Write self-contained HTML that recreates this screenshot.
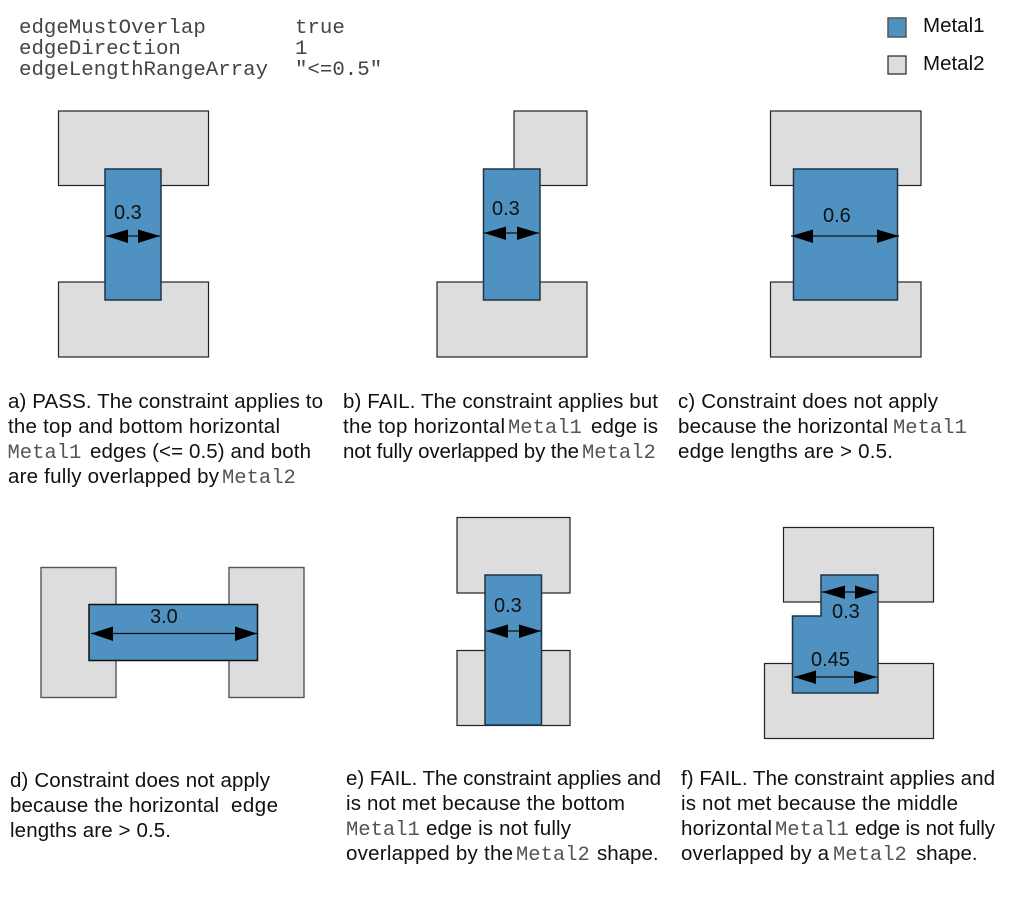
<!DOCTYPE html>
<html><head><meta charset="utf-8"><style>
html,body{margin:0;padding:0;background:#fff;width:1013px;height:911px;overflow:hidden}
svg{display:block}
text{font-family:"Liberation Sans",sans-serif;font-size:20.5px;fill:#111}
.m{font-family:"Liberation Mono",monospace;font-size:20.5px;fill:#555}
.h{font-family:"Liberation Mono",monospace;font-size:20.75px;fill:#444}
.l{font-size:20px}
.g{fill:#dddddd;stroke:#222;stroke-width:1.2}
.d{stroke:#555;stroke-width:1.4}
.b{fill:#4f92c2;stroke:#223344;stroke-width:1.5}
.a{stroke:#111;stroke-width:1.2;fill:none}
.t{fill:#000;stroke:none}
</style></head><body>
<svg width="1013" height="911" viewBox="0 0 1013 911" xmlns="http://www.w3.org/2000/svg">
<text class="h" x="19" y="33">edgeMustOverlap</text><text class="h" x="295" y="33">true</text>
<text class="h" x="19" y="54">edgeDirection</text><text class="h" x="295" y="54">1</text>
<text class="h" x="19" y="75">edgeLengthRangeArray</text><text class="h" x="295" y="75">"&lt;=0.5"</text>

<rect class="b" x="888" y="18" width="18" height="19" style="stroke:#555"/><text x="923" y="32">Metal1</text>
<rect class="g" x="888" y="56" width="18" height="18"/><text x="923" y="70">Metal2</text>

<!-- a -->
<rect class="g" x="58.500" y="111" width="150" height="74.500"/>
<rect class="g" x="58.500" y="282" width="150" height="75"/>
<rect class="b" x="105" y="169" width="56" height="131"/>
<text class="l" x="114" y="219">0.3</text>
<path class="a" d="M106 236H160"/><path class="t" d="M106 236L128 229.500V243ZM160 236L138 229.500V243Z"/>

<!-- b -->
<rect class="g" x="514" y="111" width="73" height="74.500"/>
<rect class="g" x="437" y="282" width="150" height="75"/>
<rect class="b" x="483.500" y="169" width="56.500" height="131"/>
<text class="l" x="492" y="215">0.3</text>
<path class="a" d="M484 233H539"/><path class="t" d="M484 233L506 226.500V240ZM539 233L517 226.500V240Z"/>

<!-- c -->
<rect class="g" x="770.500" y="111" width="150.500" height="74.500"/>
<rect class="g" x="770.500" y="282" width="150.500" height="75"/>
<rect class="b" x="793.500" y="169" width="104" height="131"/>
<text class="l" x="823" y="222">0.6</text>
<path class="a" d="M791 236H899"/><path class="t" d="M791 236L813 229.500V243ZM899 236L877 229.500V243Z"/>

<!-- d -->
<rect class="g d" x="41" y="567.500" width="75" height="130"/>
<rect class="g d" x="229" y="567.500" width="75" height="130"/>
<rect class="b" x="89" y="604.500" width="168.500" height="56" style="stroke:#111"/>
<text class="l" x="150" y="623">3.0</text>
<path class="a" d="M91 633.500H257"/><path class="t" d="M91 633.500L113 626.500V641ZM257 633.500L235 626.500V641Z"/>

<!-- e -->
<rect class="g" x="457" y="517.500" width="113" height="75.500"/>
<rect class="g" x="457" y="650.500" width="113" height="75"/>
<rect class="b" x="485" y="575" width="56.500" height="150"/>
<text class="l" x="494" y="612">0.3</text>
<path class="a" d="M486 631H541"/><path class="t" d="M486 631L508 624.500V638ZM541 631L519 624.500V638Z"/>

<!-- f -->
<rect class="g" x="783.500" y="527.500" width="150" height="74.500"/>
<rect class="g" x="764.500" y="663.500" width="169" height="75"/>
<path class="b" d="M821 575H878V693H792.500V616H821Z"/>
<text class="l" x="832" y="618">0.3</text>
<text class="l" x="811" y="666">0.45</text>
<path class="a" d="M822 592H877"/><path class="t" d="M822 592L845 585.500V599ZM877 592L855 585.500V599Z"/>
<path class="a" d="M794 677H877"/><path class="t" d="M794 677L816 670.500V684ZM877 677L854 670.500V684Z"/>

<!-- captions a -->
<text x="8" y="408" textLength="315">a) PASS. The constraint applies to</text>
<text x="8" y="433" textLength="272">the top and bottom horizontal</text>
<text class="m" x="7.500" y="458">Metal1</text><text x="90" y="458" textLength="221">edges (&lt;= 0.5) and both</text>
<text x="8" y="483" textLength="211">are fully overlapped by</text><text class="m" x="222" y="483">Metal2</text>

<!-- captions b -->
<text x="343" y="408" textLength="315">b) FAIL. The constraint applies but</text>
<text x="343" y="433" textLength="162">the top horizontal</text><text class="m" x="508" y="433">Metal1</text><text x="591" y="433" textLength="67">edge is</text>
<text x="343" y="458" textLength="236">not fully overlapped by the</text><text class="m" x="582" y="458">Metal2</text>

<!-- captions c -->
<text x="678" y="408" textLength="260">c) Constraint does not apply</text>
<text x="678" y="433" textLength="210">because the horizontal</text><text class="m" x="893" y="433">Metal1</text>
<text x="678" y="458" textLength="215">edge lengths are &gt; 0.5.</text>

<!-- captions d -->
<text x="10" y="787" textLength="260">d) Constraint does not apply</text>
<text x="10" y="812" textLength="209">because the horizontal</text><text x="231" y="812" textLength="47">edge</text>
<text x="10" y="837" textLength="161">lengths are &gt; 0.5.</text>

<!-- captions e -->
<text x="346" y="785" textLength="315">e) FAIL. The constraint applies and</text>
<text x="346" y="810" textLength="279">is not met because the bottom</text>
<text class="m" x="346" y="835">Metal1</text><text x="426" y="835" textLength="145">edge is not fully</text>
<text x="346" y="860" textLength="167">overlapped by the</text><text class="m" x="516" y="860">Metal2</text><text x="597" y="860">shape.</text>

<!-- captions f -->
<text x="681" y="785" textLength="314">f) FAIL. The constraint applies and</text>
<text x="681" y="810" textLength="277">is not met because the middle</text>
<text x="681" y="835" textLength="91">horizontal</text><text class="m" x="775" y="835">Metal1</text><text x="855" y="835" textLength="140">edge is not fully</text>
<text x="681" y="860" textLength="148">overlapped by a</text><text class="m" x="833" y="860">Metal2</text><text x="916" y="860">shape.</text>
</svg>
</body></html>
